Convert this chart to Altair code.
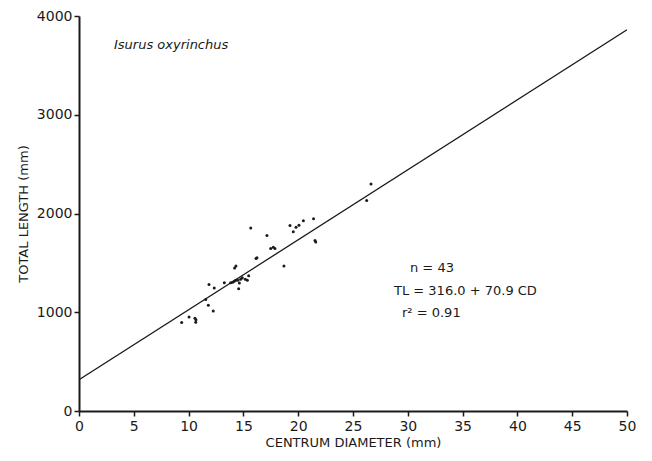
import altair as alt
import pandas as pd

# Centrum diameter (mm) and total length (mm)
cd = [9.37, 10.04, 10.58, 10.67, 10.65, 11.56, 11.86, 11.80, 12.25, 12.34,
      13.26, 13.84, 14.02, 14.17, 14.30, 14.48, 14.20, 14.32, 14.57, 14.63,
      14.75, 14.90, 15.17, 15.36, 15.48, 15.67, 16.15, 16.24, 17.15, 17.49,
      17.73, 17.88, 18.70, 19.25, 19.55, 19.80, 20.07, 20.47, 21.40, 21.53,
      21.60, 26.25, 26.64]
tl = [896, 953, 939, 924, 899, 1128, 1280, 1071, 1013, 1245,
      1300, 1300, 1303, 1313, 1323, 1323, 1447, 1468, 1239, 1296,
      1333, 1350, 1333, 1323, 1370, 1852, 1545, 1553, 1778, 1646,
      1657, 1646, 1468, 1879, 1815, 1862, 1882, 1926, 1946, 1727,
      1712, 2131, 2300]

intercept = 316.0
slope = 70.9
x_ticks = list(range(0, 55, 5))
y_ticks = [0, 1000, 2000, 3000, 4000]

pts = pd.DataFrame({"cd": cd, "tl": tl})
line_df = pd.DataFrame({"cd": [0, 50]})

FONT = "DejaVu Sans"
INK = "#1a1a1a"

xscale = alt.Scale(domain=[0, 50], nice=False)
yscale = alt.Scale(domain=[0, 4000], nice=False)

xaxis = alt.Axis(values=x_ticks, title="CENTRUM DIAMETER (mm)", grid=False,
                 format="d", labelFlush=False,
                 domainColor=INK, domainWidth=2, tickColor=INK, tickWidth=1.5,
                 tickSize=5, labelFont=FONT, labelFontSize=14, labelColor=INK,
                 labelPadding=3, titleFont=FONT, titleFontSize=13,
                 titleFontWeight="normal", titleColor=INK, titlePadding=3)
yaxis = alt.Axis(values=y_ticks, title="TOTAL LENGTH (mm)", grid=False,
                 format="d", labelFlush=False,
                 domainColor=INK, domainWidth=2, tickColor=INK, tickWidth=1.5,
                 tickSize=5, labelFont=FONT, labelFontSize=14, labelColor=INK,
                 labelPadding=2, titleFont=FONT, titleFontSize=13,
                 titleFontWeight="normal", titleColor=INK, titlePadding=6)

points = alt.Chart(pts).mark_circle(size=9, color=INK, opacity=1).encode(
    x=alt.X("cd:Q", scale=xscale, axis=xaxis),
    y=alt.Y("tl:Q", scale=yscale, axis=yaxis),
)

line = alt.Chart(line_df).transform_calculate(
    tl=f"{intercept} + {slope} * datum.cd"
).mark_line(color=INK, strokeWidth=1.3, clip=True).encode(
    x=alt.X("cd:Q", scale=xscale),
    y=alt.Y("tl:Q", scale=yscale),
)

def label(text, px, py, italic=False):
    return alt.Chart(pd.DataFrame({"t": [text]})).mark_text(
        font=FONT, fontSize=13, color=INK, align="left", baseline="middle",
        fontStyle="italic" if italic else "normal",
    ).encode(x=alt.value(px), y=alt.value(py), text="t:N")

species = label("Isurus oxyrinchus", 35, 29, italic=True)
n_txt = label("n = 43", 331, 252)
eq_txt = label("TL = 316.0 + 70.9 CD", 315, 275)
r_txt = label("r² = 0.91", 323, 297)

chart = alt.layer(line, points, species, n_txt, eq_txt, r_txt).properties(
    width=548, height=395,
    autosize=alt.AutoSizeParams(type="none"),
    padding={"left": 71, "top": 8, "right": 17, "bottom": 42},
    background="white",
).configure_view(stroke=None)

chart.save("out.html", embed_options={"renderer": "svg", "actions": False})
